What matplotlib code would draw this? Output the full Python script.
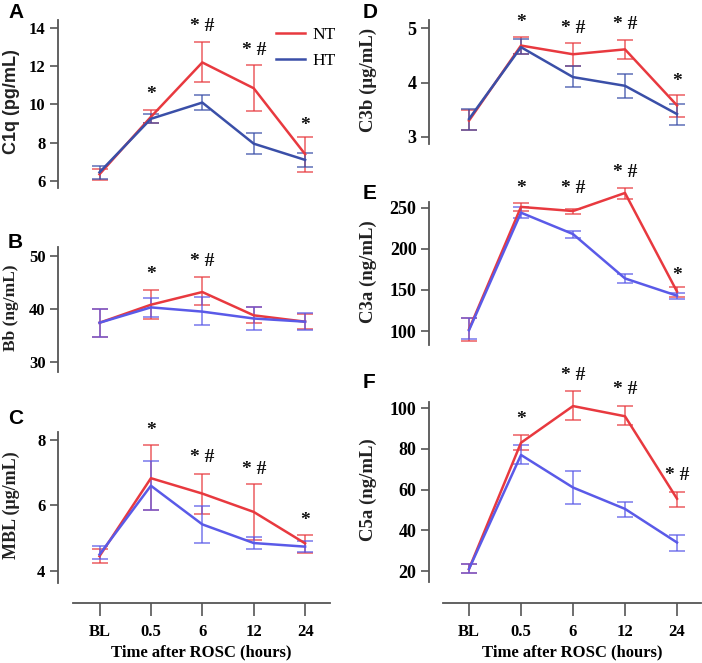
import matplotlib
matplotlib.use("Agg")
import matplotlib.pyplot as plt
import numpy as np

# ---------------- data ----------------
time_labels = ["BL", "0.5", "6", "12", "24"]

c1q_nt = [6.35, 9.35, 12.2, 10.85, 7.4]
c1q_nt_lo = [6.05, 9.05, 11.15, 9.65, 6.45]
c1q_nt_hi = [6.65, 9.7, 13.25, 12.05, 8.3]
c1q_ht = [6.45, 9.25, 10.1, 7.95, 7.1]
c1q_ht_lo = [6.1, 9.05, 9.7, 7.4, 6.75]
c1q_ht_hi = [6.8, 9.5, 10.5, 8.5, 7.45]
c1q_sig = ["", "*", "* #", "* #", "*"]
c1q_sig_y = [0, 10.5, 14.1, 12.85, 8.9]

bb_nt = [37.4, 40.8, 43.2, 38.8, 37.6]
bb_nt_lo = [34.8, 38.1, 40.8, 37.3, 36.2]
bb_nt_hi = [40.0, 43.6, 46.0, 40.4, 39.0]
bb_ht = [37.4, 40.3, 39.5, 38.2, 37.6]
bb_ht_lo = [34.8, 38.5, 36.9, 36.0, 36.0]
bb_ht_hi = [40.0, 42.1, 42.2, 40.4, 39.3]
bb_sig = ["", "*", "* #", "", ""]
bb_sig_y = [0, 46.5, 48.9, 0, 0]

mbl_nt = [4.45, 6.83, 6.36, 5.8, 4.84]
mbl_nt_lo = [4.25, 5.86, 5.74, 4.95, 4.56]
mbl_nt_hi = [4.68, 7.83, 6.96, 6.65, 5.1]
mbl_ht = [4.5, 6.6, 5.42, 4.85, 4.74]
mbl_ht_lo = [4.35, 5.87, 4.85, 4.67, 4.58]
mbl_ht_hi = [4.75, 7.34, 5.98, 5.02, 4.9]
mbl_sig = ["", "*", "* #", "* #", "*"]
mbl_sig_y = [0, 8.3, 7.45, 7.1, 5.55]

c3b_nt = [3.3, 4.68, 4.52, 4.61, 3.58]
c3b_nt_lo = [3.12, 4.53, 4.3, 4.43, 3.37]
c3b_nt_hi = [3.5, 4.83, 4.73, 4.79, 3.78]
c3b_ht = [3.33, 4.65, 4.1, 3.94, 3.42]
c3b_ht_lo = [3.12, 4.53, 3.91, 3.72, 3.22]
c3b_ht_hi = [3.52, 4.8, 4.3, 4.16, 3.6]
c3b_sig = ["", "*", "* #", "* #", "*"]
c3b_sig_y = [0, 5.1, 5.0, 5.07, 4.02]

c3a_nt = [102, 251, 246, 268, 148]
c3a_nt_lo = [88, 246, 243, 261, 142]
c3a_nt_hi = [116, 256, 249, 274, 153]
c3a_ht = [101, 244, 218, 164, 143]
c3a_ht_lo = [90, 238, 213, 159, 139]
c3a_ht_hi = [116, 251, 222, 169, 146]
c3a_sig = ["", "*", "* #", "* #", "*"]
c3a_sig_y = [0, 274, 273, 293, 168]

c5a_nt = [21, 83, 101, 96, 55.5]
c5a_nt_lo = [19, 79.5, 94, 91.5, 51.5]
c5a_nt_hi = [23.5, 87, 108.5, 101, 59]
c5a_ht = [21, 77, 61, 50.5, 34]
c5a_ht_lo = [19, 72.5, 53, 46.5, 30]
c5a_ht_hi = [23.5, 82, 69, 54, 37.5]
c5a_sig = ["", "*", "* #", "* #", "* #"]
c5a_sig_y = [0, 94.5, 116, 109, 67]

# ---------------- style ----------------
RED = "#e8393f"
NAVY = "#3a4fa8"
PERI = "#5a5ae8"
AXC = "#555555"
SERIF = "Liberation Serif"
SANS = "Liberation Sans"

W, H = 702, 663
fig = plt.figure(figsize=(W / 100, H / 100), dpi=100)


def px_axes(x0, y0, x1, y1):
    return fig.add_axes([x0 / W, 1 - y1 / H, (x1 - x0) / W, (y1 - y0) / H])


x = np.arange(len(time_labels))


def panel(rect, xlim, ylim, yticks, nt, ntlo, nthi, ht, htlo, hthi, blue,
          ylabel, ylab_x, ylab_family, ylab_size, tick_size, letter,
          letter_xy, sig, sig_y):
    ax = px_axes(*rect)
    ax.set_xlim(*xlim)
    ax.set_ylim(*ylim)
    for s in ["top", "right", "bottom"]:
        ax.spines[s].set_visible(False)
    ax.spines["left"].set_color(AXC)
    ax.spines["left"].set_linewidth(1.3)
    ax.set_xticks([])
    ax.set_yticks(yticks)
    ax.set_yticklabels([str(t) for t in yticks], fontfamily=SERIF,
                       fontweight="bold", fontsize=tick_size)
    ax.tick_params(axis="y", length=6, width=1.2, color=AXC, pad=3)
    ax.patch.set_alpha(0)
    nt = np.array(nt); ht = np.array(ht)
    for vals, lo, hi, c in [(nt, ntlo, nthi, RED), (ht, htlo, hthi, blue)]:
        yerr = np.vstack([vals - np.array(lo), np.array(hi) - vals])
        ax.errorbar(x, vals, yerr=yerr, fmt="none", ecolor=c, elinewidth=1.2,
                    capsize=5.5, capthick=1.2, alpha=0.75, clip_on=False)
    ax.plot(x, nt, color=RED, lw=1.8, clip_on=False, label="NT")
    ax.plot(x, ht, color=blue, lw=1.8, clip_on=False, label="HT")
    for xi, s, sy in zip(x, sig, sig_y):
        if s:
            ax.text(xi, sy, s, ha="center", va="center", fontsize=14,
                    fontfamily=SERIF, fontweight="bold", color="#111111",
                    clip_on=False)
    fig.text(ylab_x / W, 1 - ((rect[1] + rect[3]) / 2 - 2) / H, ylabel,
             rotation=90, ha="center", va="center", fontsize=ylab_size,
             fontweight="bold", fontfamily=ylab_family, color="#222222")
    fig.text(letter_xy[0] / W, 1 - letter_xy[1] / H, letter, ha="left",
             va="center", fontsize=15, fontweight="bold", fontfamily=SANS)
    return ax


def xaxis(rect, xlim):
    ax = px_axes(*rect)
    ax.set_xlim(*xlim)
    ax.set_ylim(0, 1)
    for s in ["top", "right", "left"]:
        ax.spines[s].set_visible(False)
    ax.spines["bottom"].set_color(AXC)
    ax.spines["bottom"].set_linewidth(1.3)
    ax.set_yticks([])
    ax.set_xticks(x)
    ax.set_xticklabels(time_labels, fontfamily=SERIF, fontweight="bold",
                       fontsize=12)
    ax.tick_params(axis="x", length=9, width=1.2, color=AXC, pad=6)
    ax.set_xlabel("Time after ROSC (hours)", fontfamily=SERIF,
                  fontweight="bold", fontsize=12, labelpad=3)
    ax.patch.set_alpha(0)


# left column mapping: BL at 99.5px, spacing 51.4px
L_sp = 51.4
L0 = 99.5
Lx = lambda a, b: ((a - L0) / L_sp, (b - L0) / L_sp)
# right column mapping: BL at 469px, spacing 52px
R_sp = 52.0
R0 = 469.0
Rx = lambda a, b: ((a - R0) / R_sp, (b - R0) / R_sp)

axA = panel((58, 20, 330, 188), Lx(58, 330), (5.63, 14.42), [6, 8, 10, 12, 14],
            c1q_nt, c1q_nt_lo, c1q_nt_hi, c1q_ht, c1q_ht_lo, c1q_ht_hi, NAVY,
            "C1q (pg/mL)", 12, SANS, 13, 12, "A", (8, 12), c1q_sig, c1q_sig_y)
panel((58, 247, 330, 372), Lx(58, 330), (28.1, 51.7), [30, 40, 50],
      bb_nt, bb_nt_lo, bb_nt_hi, bb_ht, bb_ht_lo, bb_ht_hi, PERI,
      "Bb (ng/mL)", 11, SERIF, 12.5, 12, "B", (8, 242), bb_sig, bb_sig_y)
panel((58, 432, 330, 583), Lx(58, 330), (3.63, 8.24), [4, 6, 8],
      mbl_nt, mbl_nt_lo, mbl_nt_hi, mbl_ht, mbl_ht_lo, mbl_ht_hi, PERI,
      "MBL (μg/mL)", 11, SERIF, 13, 12, "C", (8, 418), mbl_sig, mbl_sig_y)
panel((429, 20, 701, 144), Rx(429, 701), (2.87, 5.15), [3, 4, 5],
      c3b_nt, c3b_nt_lo, c3b_nt_hi, c3b_ht, c3b_ht_lo, c3b_ht_hi, NAVY,
      "C3b (μg/mL)", 368, SERIF, 13.5, 13, "D", (363, 12), c3b_sig, c3b_sig_y)
panel((429, 202, 701, 345), Rx(429, 701), (83, 257), [100, 150, 200, 250],
      c3a_nt, c3a_nt_lo, c3a_nt_hi, c3a_ht, c3a_ht_lo, c3a_ht_hi, PERI,
      "C3a (ng/mL)", 368, SERIF, 13.5, 13, "E", (363, 193), c3a_sig, c3a_sig_y)
panel((429, 402, 701, 582), Rx(429, 701), (14.6, 103), [20, 40, 60, 80, 100],
      c5a_nt, c5a_nt_lo, c5a_nt_hi, c5a_ht, c5a_ht_lo, c5a_ht_hi, PERI,
      "C5a (ng/mL)", 368, SERIF, 13.5, 13, "F", (363, 383), c5a_sig, c5a_sig_y)

axA.legend(loc="upper left", bbox_to_anchor=(0.775, 1.0),
           frameon=False, prop={"family": SERIF, "size": 12.5},
           handlelength=1.7, handletextpad=0.4, labelspacing=0.55,
           borderaxespad=0)

xaxis((73, 593, 330, 603), Lx(73, 330))
xaxis((443, 593, 701, 603), Rx(443, 701))

fig.savefig("out.png", dpi=100)
